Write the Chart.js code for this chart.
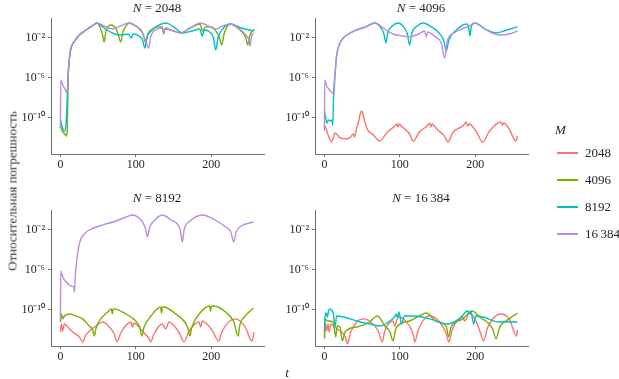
<!DOCTYPE html>
<html>
<head>
<meta charset="utf-8">
<script src="https://cdn.jsdelivr.net/npm/chart.js@4.4.1/dist/chart.umd.min.js"></script>
<style>
  html, body { margin: 0; padding: 0; background: #fff; }
  #root { position: relative; width: 619px; height: 379px; overflow: hidden; font-family: 'Liberation Serif', 'Times New Roman', serif; color: #231f20; }
  canvas { position: absolute; }
  .txt { position: absolute; white-space: nowrap; line-height: 15px; }
  .title { font-size: 13px; transform: translateX(-50%); }
  .leg-line { position: absolute; height: 1.5px; width: 21px; }
  .leg-lab { position: absolute; font-size: 13px; line-height: 15px; white-space: nowrap; }
</style>
</head>
<body>
<div id="root">
  <canvas id="c0" width="280" height="180" style="left:0px;top:0px"></canvas>
  <canvas id="c1" width="280" height="180" style="left:264px;top:0px"></canvas>
  <canvas id="c2" width="280" height="180" style="left:0px;top:192px"></canvas>
  <canvas id="c3" width="280" height="180" style="left:264px;top:192px"></canvas>
  <div id="titles"></div>
  <div id="legend"></div>
  <div class="txt" style="left:12px;top:191px;font-size:13px;color:#333;transform:translate(-50%,-50%) rotate(-90deg);">Относительная погрешность</div>
  <div class="txt" style="left:287px;top:372px;font-size:13px;font-style:italic;transform:translate(-50%,-50%);">t</div>
</div>
<script>
// ---- data (t, relative error) ----
const xTicks = [0, 100, 200];
const yTicks = [1e-10, 1e-6, 1e-2];
const yTickLabels = ['10\u207B\u00B9\u2070', '10\u207B\u2076', '10\u207B\u00B2'];
const seriesNames = ['2048', '4096', '8192', '16\u2009384'];
const panelNames = ['2048', '4096', '8192', '16\u2009384'];

// N = 2048
const n2048_m4096 = [[0,1.6e-11],[2,6.3e-12],[4,3.2e-12],[6,2.5e-12],[7.5,1.6e-12],[8.8,3.2e-12],[9.8,1e-8],[10.6,5.0e-6],[12,1e-4],[14,1e-3],[17,3.2e-3],[20.7,7.9e-3],[25,2.0e-2],[34,6.3e-2],[42,1.6e-1],[48.5,3.2e-1],[53,1e-1],[56,2.0e-2],[58,4.0e-3],[60,3.2e-2],[63,1.3e-1],[67,2.0e-1],[72,1.3e-1],[76,3.2e-2],[80,4.0e-3],[83,4.0e-2],[87,1.6e-1],[91,3.2e-1],[100,1.6e-1],[106,6.3e-2],[110,2.0e-2],[113,3.2e-3],[116,2.5e-2],[122,7.9e-2],[130,1.3e-1],[135,1.3e-1],[137,2.5e-2],[139,1e-1],[150,5.0e-2],[160,3.2e-2],[172,1e-1],[185,2.5e-1],[189,5.0e-2],[192,1.3e-1],[200,1.3e-1],[207,4.0e-2],[211,1e-2],[214,2.0e-3],[217,2.5e-2],[221,1.3e-1],[225.5,2.5e-1],[233,1.3e-1],[241,4.0e-2],[246,1e-2],[248.5,2.0e-3],[251,1.6e-2],[257,7.9e-2]];
const n2048_m8192 = [[0,6.3e-11],[2,1.6e-11],[5,5.0e-12],[7.5,2.5e-11],[8.8,4.0e-9],[10,1e-6],[12,1e-4],[14,1e-3],[17,3.2e-3],[20.7,7.9e-3],[25,2.0e-2],[34,6.3e-2],[42,1.6e-1],[48.5,3.2e-1],[56,1.3e-1],[64,5.0e-2],[72,2.5e-2],[80,2.0e-2],[90,2.5e-2],[94,1e-2],[96,2.5e-2],[104,1.6e-2],[109,6.3e-3],[112,1e-3],[115,1.3e-2],[122,6.3e-2],[131,2.0e-1],[140,3.2e-1],[150,1.3e-1],[162,3.2e-2],[175,5.0e-2],[185,7.9e-2],[188,1.6e-2],[191,6.3e-2],[198,4.0e-2],[203,1e-2],[206,6.3e-4],[209,1e-2],[215,7.9e-2],[225.5,2.5e-1],[240,1e-1],[256,5.0e-2]];
const n2048_m16384 = [[0,1e-11],[0.4,6.3e-7],[3,2.0e-7],[6,7.9e-8],[8.8,3.2e-8],[10.6,5.0e-6],[12,1e-4],[14,1e-3],[17,3.2e-3],[20.7,7.9e-3],[25,2.0e-2],[34,6.3e-2],[42,1.6e-1],[48.5,3.2e-1],[58,1.6e-1],[69,7.9e-2],[80,1.6e-1],[91,3.2e-1],[100,1.6e-1],[108,5.0e-2],[113,5.0e-3],[117,1e-3],[120,1.6e-2],[126,6.3e-2],[135,1e-1],[137,3.2e-2],[139,7.9e-2],[150,5.0e-2],[159,3.2e-2],[170,7.9e-2],[186,3.2e-1],[196,1.6e-1],[206,7.9e-2],[215,1.6e-1],[225.5,2.5e-1],[238,7.9e-2],[246,2.0e-2],[250,6.3e-3],[251.5,1.6e-3],[253,1e-2],[256,3.2e-2]];

// N = 4096
const n4096_m2048 = [[0,2.0e-11],[1.8,1e-11],[5.3,1.6e-12],[9.7,4.0e-13],[14,3.2e-12],[20.7,1e-12],[29.5,7.9e-13],[35,1.3e-12],[38,2.5e-12],[40,1.3e-12],[42.7,1e-11],[45,3.2e-11],[47,2.0e-10],[49.3,5.0e-10],[51,2.5e-10],[52.4,1e-10],[56,1e-11],[64.8,2.0e-12],[73.5,5.0e-13],[82.4,3.2e-12],[93.4,1.6e-11],[96,2.5e-11],[97.8,1.3e-11],[99,2.5e-11],[103,1.3e-11],[113,2.5e-12],[117.6,5.0e-13],[126,4.0e-12],[136,1.6e-11],[139.6,3.2e-11],[141,1.3e-11],[143,2.5e-11],[149,7.9e-12],[159,1.6e-12],[163.9,4.0e-13],[170,3.2e-12],[185,2.0e-11],[188,4.0e-11],[190,1.6e-11],[192,2.5e-11],[201,5.0e-12],[210,4.0e-13],[219,5.0e-12],[234,4.0e-11],[236,2.0e-11],[238,3.2e-11],[245,7.9e-12],[254,5.0e-13],[256,1.6e-12]];
const n4096_m8192 = [[0,5.0e-10],[1.8,1e-10],[3,3.2e-11],[5.3,6.3e-11],[8,5.0e-11],[10,6.3e-11],[11,2.0e-11],[12,1e-8],[13,3.2e-7],[14,2.0e-6],[16.3,2.0e-4],[20.7,3.2e-3],[25,1e-2],[29.5,2.0e-2],[42.7,6.3e-2],[55,1.3e-1],[67,3.2e-1],[74,1.3e-1],[79,2.5e-2],[81.5,3.2e-3],[84,3.2e-2],[90,1.6e-1],[97.8,3.2e-1],[105,1.3e-1],[110,2.5e-2],[113,2.0e-3],[116,3.2e-2],[123,1.6e-1],[131,3.2e-1],[142,1.3e-1],[152,3.2e-2],[158,6.3e-3],[161.7,5.0e-4],[165,6.3e-3],[175,6.3e-2],[188,2.5e-1],[191,1.6e-1],[193,1.6e-2],[195,1.6e-1],[199,3.2e-1],[213,7.9e-2],[228,3.2e-2],[242,6.3e-2],[256,1.3e-1]];
const n4096_m16384 = [[0,5.0e-12],[0.4,6.3e-7],[3,1.6e-7],[7,6.3e-8],[12.8,2.5e-8],[14,2.0e-6],[16.3,2.0e-4],[20.7,3.2e-3],[25,1e-2],[29.5,2.0e-2],[42.7,6.3e-2],[55,1.3e-1],[67,3.2e-1],[80,7.9e-2],[91,2.5e-2],[103,1.6e-2],[113,1.3e-2],[125,2.5e-2],[133,5.0e-2],[135,1.3e-2],[137,4.0e-2],[147,1.3e-2],[155,3.2e-3],[159.5,1e-4],[163,5.0e-3],[172,3.2e-2],[185,1e-1],[192.5,1.6e-1],[200,3.2e-1],[215,6.3e-2],[232,2.0e-2],[245,2.5e-2],[256,5.0e-2]];

// N = 8192
const n8192_m2048 = [[0,6.3e-13],[1.3,4.0e-12],[3,7.9e-13],[5.3,4.0e-12],[9.7,2.0e-12],[16.3,6.3e-13],[25,2.0e-13],[29.5,6.3e-14],[33,2.5e-13],[40,1e-12],[47,2.5e-12],[56,6.3e-12],[64.8,2.0e-12],[71.4,4.0e-13],[75,6.3e-14],[80,5.0e-13],[93.4,6.3e-12],[95.6,2.0e-12],[97.5,5.0e-12],[103,2.5e-12],[111,5.0e-13],[117,1.6e-13],[119.8,6.3e-14],[124,4.0e-13],[135,4.0e-12],[139.5,1.3e-12],[144,6.3e-12],[157,6.3e-13],[164,6.3e-14],[170,6.3e-13],[183.7,6.3e-12],[186,2.0e-12],[188,7.9e-12],[201,1e-12],[210,7.9e-14],[214,6.3e-13],[232,1.3e-11],[245,2.0e-12],[254,7.9e-14],[257,6.3e-13]];
const n8192_m4096 = [[0,6.3e-12],[1.3,4.0e-11],[3,1.3e-11],[5.3,2.5e-11],[11.9,4.0e-11],[20.7,2.5e-11],[29.5,1.3e-11],[38.3,2.5e-12],[43,1e-12],[45,2.5e-13],[47,1.3e-12],[51.5,7.9e-12],[62.6,6.3e-11],[67.8,1.3e-10],[68.8,4.0e-11],[70,1.3e-10],[71.4,1.3e-10],[86.8,4.0e-11],[100,7.9e-12],[105,2.0e-12],[108,2.5e-13],[111,2.0e-12],[120,2.5e-11],[133,2.0e-10],[134,5.0e-11],[135.5,2.0e-10],[137.4,2.0e-10],[153,4.0e-11],[165,6.3e-12],[169,1.6e-12],[171.8,2.5e-13],[174,1.6e-12],[182,2.5e-11],[198,2.5e-10],[199,7.9e-11],[200.5,2.5e-10],[203.5,2.5e-10],[219,6.3e-11],[230,6.3e-12],[235.7,2.5e-13],[238,3.2e-12],[245,2.5e-11],[256,1.6e-10]];
const n8192_m16384 = [[0,1e-11],[0.4,7.9e-7],[3,2.0e-7],[7.5,6.3e-8],[14,2.5e-8],[17.6,2.0e-8],[18.5,6.3e-9],[19.8,4.0e-7],[21.6,7.9e-6],[24.2,2.0e-4],[27.3,1.3e-3],[31.7,4.0e-3],[38.3,1e-2],[51.5,2.5e-2],[73.6,7.9e-2],[86.8,2.0e-1],[95.6,3.2e-1],[108.8,6.3e-2],[113,1.3e-2],[115.4,2.0e-3],[118,1.6e-2],[124,7.9e-2],[135,3.2e-1],[147,1e-1],[155,4.0e-2],[159,1e-2],[161.7,6.3e-4],[164,1e-2],[172,7.9e-2],[189,3.2e-1],[205,1e-1],[219,2.0e-2],[226,6.3e-3],[230,6.3e-4],[233,6.3e-3],[240,2.5e-2],[256,6.3e-2]];

// N = 16384
const n16384_m2048 = [[0,1.3e-13],[1.3,4.0e-12],[3,7.9e-13],[4.8,4.0e-12],[6.2,6.3e-13],[8.4,4.0e-12],[11.9,2.5e-12],[20.7,7.9e-13],[27.3,2.5e-13],[30.8,4.0e-14],[34,4.0e-13],[42.7,6.3e-12],[51.5,1.3e-11],[60,7.9e-12],[71.4,7.9e-13],[76.7,6.3e-14],[80,7.9e-13],[91,7.9e-12],[93,2.5e-12],[97.8,2.0e-11],[108.8,6.3e-12],[117.6,4.0e-13],[119.8,6.3e-14],[124,7.9e-13],[135,2.0e-11],[139.6,2.5e-11],[152.8,6.3e-12],[161.7,4.0e-13],[165,6.3e-14],[170,1.3e-12],[183.7,2.0e-11],[185.9,7.9e-12],[192.5,5.0e-11],[201,7.9e-12],[207.5,4.0e-13],[211,7.9e-14],[216.7,2.0e-12],[234,4.0e-11],[245,1.3e-11],[255,2.5e-13],[256,1e-12]];
const n16384_m4096 = [[0,2.0e-13],[0.9,1.3e-11],[4,7.9e-12],[7.5,7.9e-12],[11.9,5.0e-12],[15,2.0e-13],[17,2.5e-12],[20.7,2.0e-12],[23.8,7.9e-14],[27.3,6.3e-13],[42.7,2.0e-12],[60,6.3e-12],[67,2.0e-11],[70.5,2.5e-11],[80,2.5e-12],[87,6.3e-13],[91,7.9e-14],[95,1.6e-12],[113,7.9e-12],[131,4.0e-11],[135,5.0e-11],[148,7.9e-12],[161.7,2.0e-12],[164.8,2.0e-13],[168,2.0e-12],[183.7,1.3e-11],[192.5,6.3e-11],[196,7.9e-11],[206,2.0e-11],[223,1.3e-12],[227.7,1.3e-13],[232,1.6e-12],[245,1.3e-11],[256,5.0e-11]];
const n16384_m8192 = [[0,7.9e-13],[0.9,2.0e-11],[2.2,5.0e-11],[4,2.0e-11],[5.3,7.9e-11],[7.5,1.3e-10],[9.5,1e-10],[11.9,4.0e-11],[14,2.0e-12],[16.3,2.5e-11],[25,2.0e-11],[42.7,7.9e-12],[60,4.0e-12],[73.6,2.5e-12],[86.8,7.9e-12],[93,2.0e-11],[95.6,4.0e-11],[97,1.6e-11],[99,6.3e-11],[102,4.0e-12],[106,2.5e-11],[117.6,2.5e-11],[139.6,1.3e-11],[161.7,4.0e-12],[179,1.3e-11],[190,7.9e-11],[192.5,4.0e-11],[194,7.9e-11],[198,4.0e-12],[201,2.5e-11],[210,2.0e-11],[232,6.3e-12],[256,6.3e-12]];

// ---- styling ----
const COLORS = ['#F8766D', '#7CAE00', '#00BFC4', '#B98CE0'];
const FONT = "'Liberation Serif', 'Times New Roman', serif";
const AXIS = '#6d6e71';

const panels = [
  { canvas: 'c0', series: [[1, n2048_m4096], [2, n2048_m8192], [3, n2048_m16384]] },
  { canvas: 'c1', series: [[0, n4096_m2048], [2, n4096_m8192], [3, n4096_m16384]] },
  { canvas: 'c2', series: [[0, n8192_m2048], [1, n8192_m4096], [3, n8192_m16384]] },
  { canvas: 'c3', series: [[0, n16384_m2048], [1, n16384_m4096], [2, n16384_m8192]] }
];

panels.forEach(p => {
  const datasets = p.series.map(([si, pts]) => ({
    label: seriesNames[si],
    data: pts.map(([t, v]) => ({ x: t, y: v })),
    borderColor: COLORS[si],
    borderWidth: 1.4,
    pointRadius: 0,
    cubicInterpolationMode: 'monotone',
    fill: false,
    order: 3 - si
  }));
  new Chart(document.getElementById(p.canvas), {
    type: 'line',
    data: { datasets },
    options: {
      responsive: false,
      animation: false,
      layout: { padding: { left: 0, right: 16, top: 18, bottom: 0 } },
      plugins: { legend: { display: false }, tooltip: { enabled: false }, title: { display: false } },
      scales: {
        x: {
          type: 'linear', min: -12.5, max: 270,
          afterBuildTicks: s => { s.ticks = xTicks.map(v => ({ value: v })); },
          afterFit: s => { s.height = 26; },
          grid: { drawOnChartArea: false, drawTicks: true, tickLength: 3, color: AXIS },
          border: { display: true, color: AXIS, width: 1 },
          ticks: { font: { family: FONT, size: 12 }, color: '#231f20', padding: 1, maxRotation: 0, autoSkip: false }
        },
        y: {
          type: 'logarithmic', min: 2.5e-14, max: 1,
          afterBuildTicks: s => { s.ticks = yTicks.map(v => ({ value: v })); },
          afterFit: s => { s.width = 51; },
          grid: { drawOnChartArea: false, drawTicks: true, tickLength: 3, color: AXIS },
          border: { display: true, color: AXIS, width: 1 },
          ticks: {
            font: { family: FONT, size: 12 }, color: '#231f20', padding: 3, autoSkip: false,
            callback: (v, i) => yTickLabels[i]
          }
        }
      }
    }
  });
});

// titles
const titlePos = [[157, 0], [421, 0], [157, 190], [421, 190]];
const tdiv = document.getElementById('titles');
panelNames.forEach((n, i) => {
  const d = document.createElement('div');
  d.className = 'txt title';
  d.style.left = titlePos[i][0] + 'px';
  d.style.top = titlePos[i][1] + 'px';
  d.innerHTML = '<i>N</i> = ' + n;
  tdiv.appendChild(d);
});

// legend
const ldiv = document.getElementById('legend');
const m = document.createElement('div');
m.className = 'txt';
m.style.cssText = 'left:555px;top:122px;font-size:13px;font-style:italic;';
m.textContent = 'M';
ldiv.appendChild(m);
const legY = [153, 180, 207, 234];
seriesNames.forEach((n, i) => {
  const l = document.createElement('div');
  l.className = 'leg-line';
  l.style.left = '557px';
  l.style.top = (legY[i] - 1) + 'px';
  l.style.backgroundColor = COLORS[i];
  ldiv.appendChild(l);
  const t = document.createElement('div');
  t.className = 'leg-lab';
  t.style.left = '585px';
  t.style.top = (legY[i] - 8) + 'px';
  t.textContent = n;
  ldiv.appendChild(t);
});
</script>
</body>
</html>
